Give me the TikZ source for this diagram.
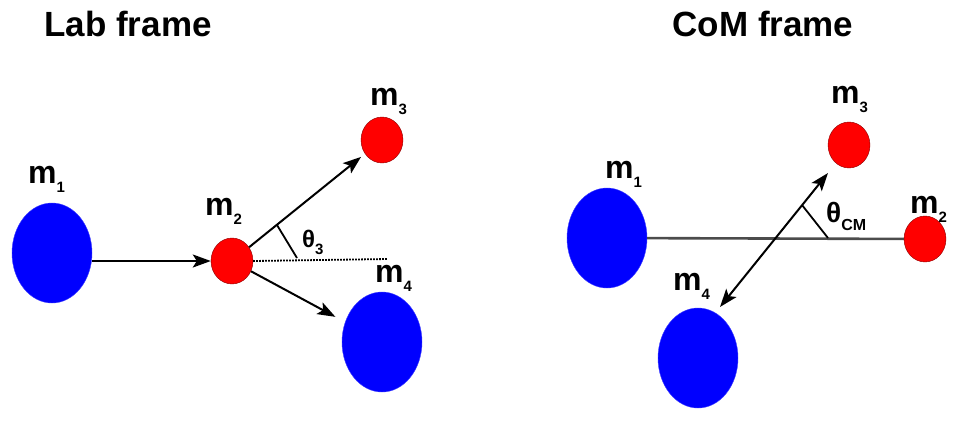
\documentclass[tikz,border=0pt]{standalone}
\usepackage{fontspec}
\setmainfont{Liberation Sans}
\usetikzlibrary{shapes.geometric, arrows.meta}
\tikzstyle{bigball} = [ellipse, minimum width=80pt, minimum height=100pt, inner sep=0pt, draw=blue!75!white, fill=blue]
\tikzstyle{smallball} = [ellipse, minimum width=42pt, minimum height=46pt, inner sep=0pt, draw=red!55!black, fill=red]
\tikzstyle{masslabel} = [anchor=base west, inner sep=0pt, font=\fontsize{32}{32}\selectfont\bfseries]
\tikzstyle{anglelabel} = [anchor=base west, inner sep=0pt, font=\fontsize{25}{25}\selectfont\bfseries]
\tikzstyle{frametitle} = [anchor=base, inner sep=0pt, font=\fontsize{35}{35}\selectfont\bfseries]
\tikzstyle{arrow} = [line width=2pt, -{Stealth[length=18pt,width=13pt,inset=4pt]}]
\tikzstyle{dblarrow} = [line width=2pt, {Stealth[length=18pt,width=13pt,inset=4pt]}-{Stealth[length=18pt,width=13pt,inset=4pt]}]
\newcommand{\lowidx}[2][15]{\raisebox{-0.3em}{\fontsize{#1}{#1}\selectfont #2}}

\begin{document}
\begin{tikzpicture}[x=1pt, y=-1pt]
\useasboundingbox (0,0) rectangle (953,424);

% --------- Lab frame ----------
\node (labTitle) [frametitle] at (128,36) {Lab frame};
\node (labM1) [bigball]   at (52,253)  {};
\node (labM2) [smallball] at (232,261) {};
\node (labM3) [smallball] at (382,140) {};
\node (labM4) [bigball]   at (382,342) {};
\node (labM1txt) [masslabel] at (28,183)  {m\lowidx{1}};
\node (labM2txt) [masslabel] at (205,215) {m\lowidx{2}};
\node (labM3txt) [masslabel] at (370,105) {m\lowidx{3}};
\node (labM4txt) [masslabel] at (375,282) {m\lowidx{4}};
\node (labTheta) [anglelabel, font=\fontsize{24}{24}\selectfont\bfseries] at (302,247) {θ\lowidx{3}};
\coordinate (labRef)  at (388,259);
\coordinate (labArcA) at (277,225);
\coordinate (labArcB) at (297,258);

% Edges (Lab)
\draw [arrow] (labM1.east |- labM2.west) -- (labM2.west);
\draw [arrow, shorten >=5pt] (labM2) -- (labM3);
\draw [arrow, shorten >=11pt] (labM2) -- (labM4);
\draw [line width=1.8pt, dash pattern=on 1.6pt off 1.4pt] (labM2.east) -- (labRef);
\draw [line width=1.8pt] (labArcA) -- (labArcB);

% --------- CoM frame ----------
\node (comTitle) [frametitle] at (763,36) {CoM frame};
\node (comM1) [bigball]   at (607,238) {};
\node (comM2) [smallball] at (925,239) {};
\node (comM3) [smallball] at (849,145) {};
\node (comM4) [bigball]   at (698,358) {};
\node (comM1txt) [masslabel] at (605,178) {m\lowidx{1}};
\node (comM2txt) [masslabel] at (910,213) {m\lowidx{2}};
\node (comM3txt) [masslabel] at (831,103) {m\lowidx{3}};
\node (comM4txt) [masslabel] at (673,290) {m\lowidx{4}};
\node (comTheta) [anglelabel, font=\fontsize{28}{28}\selectfont\bfseries] at (826,222) {θ\lowidx[16]{CM}};
\coordinate (comTipUp)   at (828,173);
\coordinate (comTipDown) at (720,307);
\coordinate (comArcA) at (802,205);
\coordinate (comArcB) at (828,238);

% Edges (CoM)
\draw [line width=2.6pt, draw=black!70] (comM1) -- (comM2);
\draw [dblarrow] (comTipDown) -- (comTipUp);
\draw [line width=1.8pt] (comArcA) -- (comArcB);

\end{tikzpicture}
\end{document}
